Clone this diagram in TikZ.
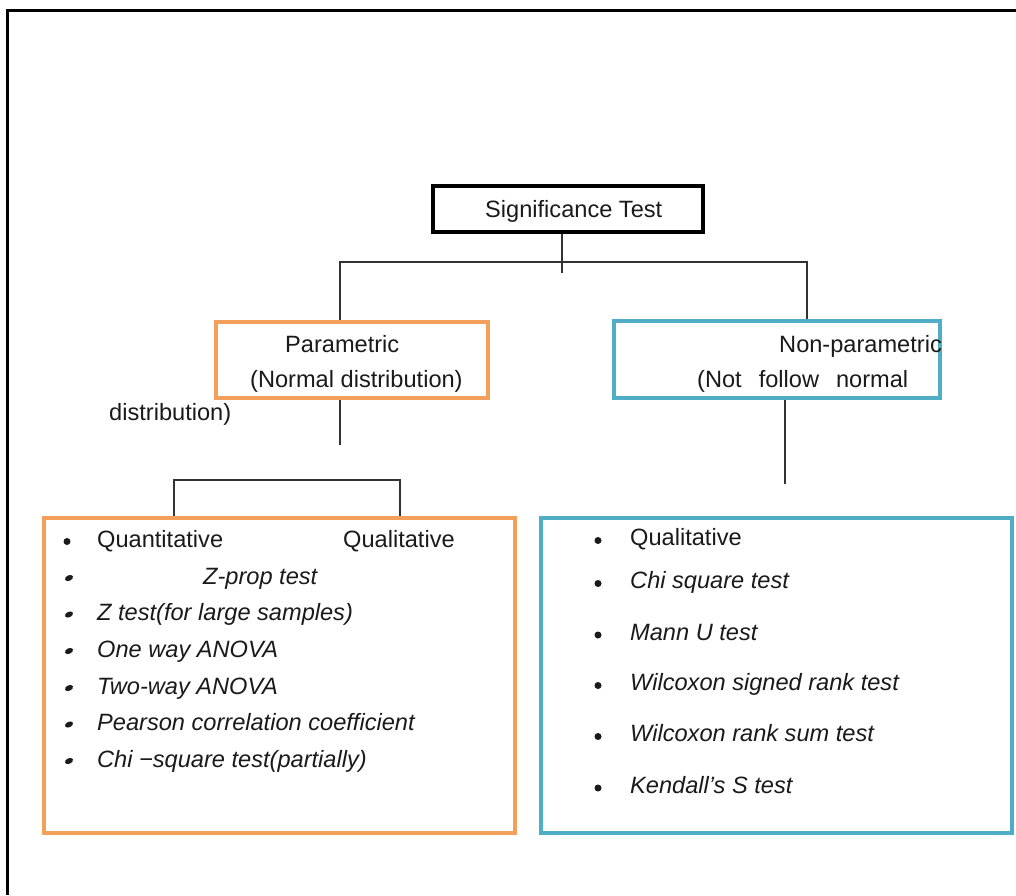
\documentclass[tikz,border=0pt]{standalone}
\usepackage{fontspec}
\usetikzlibrary{shapes.geometric}
\setmainfont{Liberation Sans}
\definecolor{orangebox}{HTML}{F2A05A}
\definecolor{tealbox}{HTML}{4FADC6}
\definecolor{linegray}{HTML}{333333}
\definecolor{txt}{HTML}{1A1A1A}
\begin{document}
\begin{tikzpicture}[x=1pt,y=-1pt,
  every node/.style={font=\fontsize{23.6}{28}\selectfont, text=txt},
  boxbase/.style={rectangle, inner sep=0pt},
  sigbox/.style={boxbase, draw=black, line width=4.5pt},
  obox/.style={boxbase, draw=orangebox, line width=3.5pt},
  tbox/.style={boxbase, draw=tealbox, line width=3.5pt},
  conn/.style={draw=linegray, line width=1.6pt},
  lbl/.style={anchor=base west, inner sep=0pt},
  itl/.style={lbl, font=\fontsize{23.6}{28}\selectfont\itshape},
  dotr/.style={circle, fill=txt, inner sep=0pt, minimum size=7pt},
  doti/.style={ellipse, fill=txt, inner sep=0pt, minimum width=8.5pt, minimum height=5.5pt, rotate=25},
  frame/.style={draw=black, line width=3pt}
]
\useasboundingbox (0,0) rectangle (1016,895);
\fill[white] (0,0) rectangle (1016,895);
% outer frame (only top and left visible)
\draw[frame] (1016,10) -- (7,10) -- (7,895);

% boxes
\node[sigbox, minimum width=270pt, minimum height=46pt] (sig) at (568,209) {};
\node[obox, minimum width=272pt, minimum height=76pt] (par) at (352,360) {};
\node[tbox, minimum width=326pt, minimum height=77pt] (npar) at (777,359.5) {};
\node[obox, minimum width=471pt, minimum height=315pt] (lbox) at (279.5,675.5) {};
\node[tbox, minimum width=471pt, minimum height=315pt] (rbox) at (776.5,675.5) {};

% box texts
\node[lbl] (sigt) at (485,217) {Significance Test};
\node[lbl] (part1) at (285,352) {Parametric};
\node[lbl] (part2) at (250,387) {(Normal distribution)};
\node[lbl] (dist) at (109,420) {distribution)};
\node[lbl] (npart1) at (779,352) {Non-parametric};
\node[lbl] (npart2) at (697,387) {(Not\hspace{17pt}follow\hspace{17pt}normal};

% connectors
\coordinate (stub) at (562,273);
\coordinate (hl) at (340,262);
\coordinate (hr) at (807,262);
\coordinate (pstub) at (340,445);
\coordinate (bl) at (174,480);
\coordinate (br) at (400,480);
\coordinate (nstub) at (785,484);
\draw[conn] (sig.south -| stub) -- (stub);
\draw[conn] (par.north -| hl) -- (hl) -- (hr) -- (npar.north -| hr);
\draw[conn] (par.south -| pstub) -- (pstub);
\draw[conn] (lbox.north -| bl) -- (bl) -- (br) -- (lbox.north -| br);
\draw[conn] (npar.south -| nstub) -- (nstub);

% left box contents
\node[dotr] (lb1) at (67,541.5) {};
\node[lbl] (quant) at (97,547) {Quantitative};
\node[lbl] (qual) at (343,547) {Qualitative};
\node[doti] (lb2) at (69,578) {};
\node[itl] (zprop) at (203,584) {Z-prop test};
\node[doti] (lb3) at (69,614.5) {};
\node[itl] (ztest) at (97,620) {Z test(for large samples)};
\node[doti] (lb4) at (69,651) {};
\node[itl] (oneway) at (97,657) {One way ANOVA};
\node[doti] (lb5) at (69,688) {};
\node[itl] (twoway) at (97,694) {Two-way ANOVA};
\node[doti] (lb6) at (69,724.5) {};
\node[itl] (pearson) at (97,730) {Pearson correlation coefficient};
\node[doti] (lb7) at (69,761) {};
\node[itl] (chip) at (97,767) {Chi −square test(partially)};

% right box contents
\node[dotr] (rb1) at (598,540.5) {};
\node[lbl] (rqual) at (630,545) {Qualitative};
\node[dotr] (rb2) at (598,583.5) {};
\node[itl] (chisq) at (630,588) {Chi square test};
\node[dotr] (rb3) at (598,635) {};
\node[itl] (mann) at (630,640) {Mann U test};
\node[dotr] (rb4) at (598,685.5) {};
\node[itl] (wsr) at (630,690) {Wilcoxon signed rank test};
\node[dotr] (rb5) at (598,736.5) {};
\node[itl] (wrs) at (630,741) {Wilcoxon rank sum test};
\node[dotr] (rb6) at (598,788) {};
\node[itl] (kend) at (630,793) {Kendall’s S test};
\end{tikzpicture}
\end{document}
